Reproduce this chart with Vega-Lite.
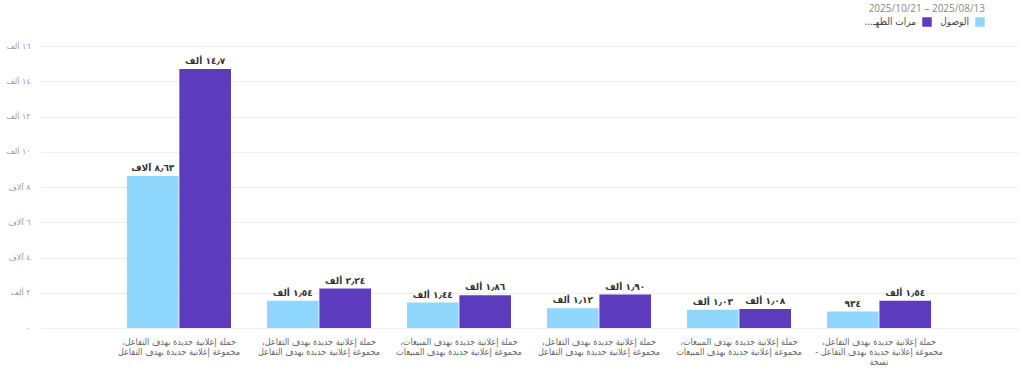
{
  "$schema": "https://vega.github.io/schema/vega-lite/v6.json",
  "width": 978,
  "height": 282,
  "autosize": {"type": "none"},
  "padding": {"left": 40, "top": 46, "right": 6, "bottom": 46},
  "background": "#ffffff",
  "title": {
    "text": "2025/10/21 – 2025/08/13",
    "anchor": "end",
    "frame": "group",
    "orient": "top",
    "offset": 3,
    "dx": -33,
    "fontSize": 10,
    "fontWeight": "normal",
    "color": "#888888",
    "font": "Open Sans"
  },
  "data": {
    "values": [
      {"campaign": "حملة إعلانية جديدة بهدف التفاعل،\u200f\nمجموعة إعلانية جديدة بهدف التفاعل", "metric": "الوصول", "value": 8630, "label": "٨٫٦٣ آلاف"},
      {"campaign": "حملة إعلانية جديدة بهدف التفاعل،\u200f\nمجموعة إعلانية جديدة بهدف التفاعل", "metric": "مرات الظهور", "value": 14700, "label": "١٤٫٧ ألف"},
      {"campaign": "حملة إعلانية جديدة بهدف التفاعل،\u200f\nمجموعة إعلانية جديدة بهدف التفاعل\u200b", "metric": "الوصول", "value": 1540, "label": "١٫٥٤ ألف"},
      {"campaign": "حملة إعلانية جديدة بهدف التفاعل،\u200f\nمجموعة إعلانية جديدة بهدف التفاعل\u200b", "metric": "مرات الظهور", "value": 2240, "label": "٢٫٢٤ ألف"},
      {"campaign": "حملة إعلانية جديدة بهدف المبيعات،\u200f\nمجموعة إعلانية جديدة بهدف المبيعات", "metric": "الوصول", "value": 1440, "label": "١٫٤٤ ألف"},
      {"campaign": "حملة إعلانية جديدة بهدف المبيعات،\u200f\nمجموعة إعلانية جديدة بهدف المبيعات", "metric": "مرات الظهور", "value": 1860, "label": "١٫٨٦ ألف"},
      {"campaign": "حملة إعلانية جديدة بهدف التفاعل،\u200f\nمجموعة إعلانية جديدة بهدف التفاعل\u200b\u200b", "metric": "الوصول", "value": 1120, "label": "١٫١٢ ألف"},
      {"campaign": "حملة إعلانية جديدة بهدف التفاعل،\u200f\nمجموعة إعلانية جديدة بهدف التفاعل\u200b\u200b", "metric": "مرات الظهور", "value": 1900, "label": "١٫٩٠ ألف"},
      {"campaign": "حملة إعلانية جديدة بهدف المبيعات،\u200f\nمجموعة إعلانية جديدة بهدف المبيعات\u200b", "metric": "الوصول", "value": 1030, "label": "١٫٠٣ ألف"},
      {"campaign": "حملة إعلانية جديدة بهدف المبيعات،\u200f\nمجموعة إعلانية جديدة بهدف المبيعات\u200b", "metric": "مرات الظهور", "value": 1080, "label": "١٫٠٨ ألف"},
      {"campaign": "حملة إعلانية جديدة بهدف التفاعل،\u200f\nمجموعة إعلانية جديدة بهدف التفاعل -\u200f\nنسخة", "metric": "الوصول", "value": 934, "label": "٩٣٤"},
      {"campaign": "حملة إعلانية جديدة بهدف التفاعل،\u200f\nمجموعة إعلانية جديدة بهدف التفاعل -\u200f\nنسخة", "metric": "مرات الظهور", "value": 1540, "label": "١٫٥٤ ألف"}
    ]
  },
  "encoding": {
    "x": {
      "field": "campaign",
      "type": "nominal",
      "sort": null,
      "scale": {"paddingInner": 0.257, "paddingOuter": 0.621},
      "axis": {
        "title": null,
        "labelAngle": 0,
        "labelExpr": "split(datum.value, '\\n')",
        "labelFont": "DejaVu Sans Condensed",
        "labelFontSize": 9,
        "labelColor": "#666666",
        "labelLineHeight": 10,
        "labelPadding": 9,
        "labelLimit": 200,
        "labelBaseline": "top",
        "ticks": false,
        "domain": false,
        "grid": false
      }
    },
    "xOffset": {
      "field": "metric",
      "type": "nominal",
      "sort": ["الوصول", "مرات الظهور"],
      "scale": {"paddingInner": 0.015}
    },
    "y": {
      "field": "value",
      "type": "quantitative",
      "scale": {"domain": [0, 16000]},
      "axis": {
        "title": null,
        "values": [0, 2000, 4000, 6000, 8000, 10000, 12000, 14000, 16000],
        "labelExpr": "datum.value == 0 ? '٠' : datum.value == 2000 ? '٢ ألف' : datum.value == 4000 ? '٤ آلاف' : datum.value == 6000 ? '٦ آلاف' : datum.value == 8000 ? '٨ آلاف' : datum.value == 10000 ? '١٠ ألف' : datum.value == 12000 ? '١٢ ألف' : datum.value == 14000 ? '١٤ ألف' : '١٦ ألف'",
        "labelFontSize": 8,
        "labelColor": "#999999",
        "labelPadding": 10,
        "ticks": false,
        "domain": false,
        "gridColor": "#eeeeee",
        "gridWidth": 1
      }
    }
  },
  "layer": [
    {
      "mark": {"type": "bar"},
      "encoding": {
        "color": {
          "field": "metric",
          "type": "nominal",
          "scale": {"domain": ["مرات الظهور", "الوصول"], "range": ["#5c3bbf", "#8fd7fd"]},
          "legend": {
            "orient": "none",
            "direction": "horizontal",
            "legendX": 882,
            "legendY": -29,
            "title": null,
            "symbolType": "square",
            "symbolSize": 90,
            "symbolStrokeWidth": 0,
            "labelAlign": "right",
            "labelOffset": -16,
            "labelFont": "DejaVu Sans Condensed",
            "labelFontSize": 10,
            "labelColor": "#444444",
            "columnPadding": 8,
            "labelExpr": "datum.label == 'مرات الظهور' ? 'مرات الظهـ...\u200f' : datum.label"
          }
        }
      }
    },
    {
      "mark": {"type": "text", "baseline": "bottom", "dy": -3, "fontSize": 9, "fontWeight": "bold", "color": "#333333"},
      "encoding": {
        "text": {"field": "label"}
      }
    }
  ],
  "config": {
    "view": {"stroke": null},
    "font": "DejaVu Sans"
  }
}
